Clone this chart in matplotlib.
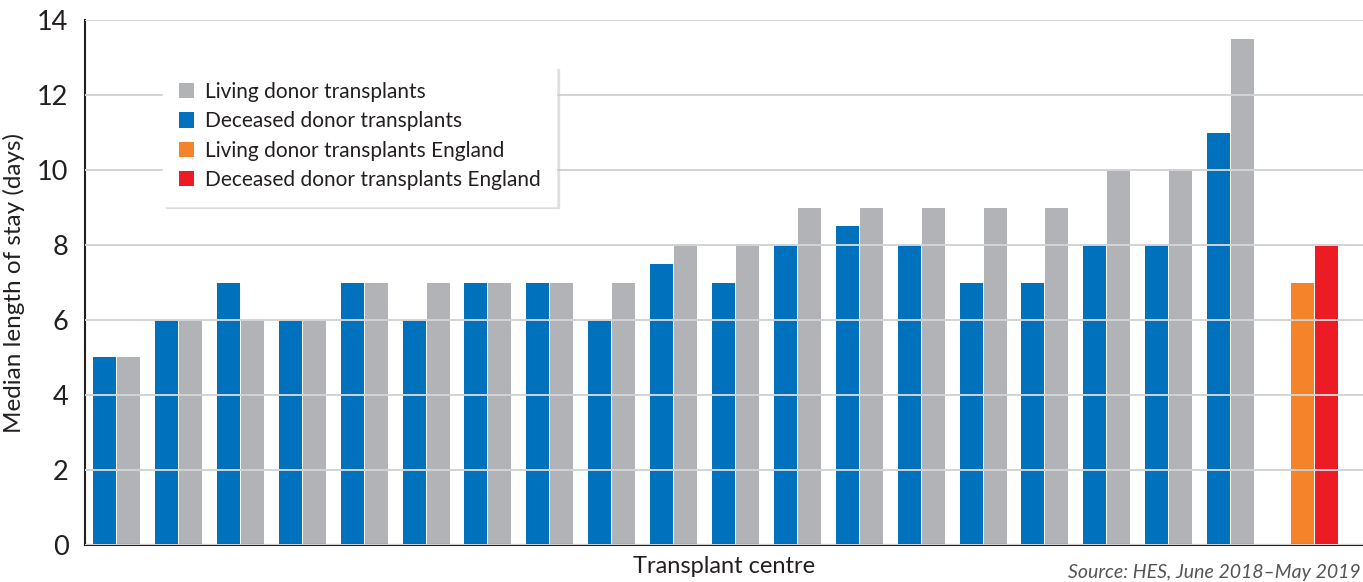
import matplotlib.pyplot as plt
import numpy as np

plt.rcParams['font.family'] = ['Lato', 'DejaVu Sans']

# median length of stay per transplant centre (days)
deceased = [5, 6, 7, 6, 7, 6, 7, 7, 6, 7.5, 7, 8, 8.5, 8, 7, 7, 8, 8, 11]
living = [5, 6, 6, 6, 7, 7, 7, 7, 7, 8, 8, 9, 9, 9, 9, 9, 10, 10, 13.5]
england_living = 7
england_deceased = 8

c_blue = '#0071bc'
c_grey = '#b1b3b6'
c_orange = '#f4832a'
c_red = '#ed1c24'
txt = '#231f20'

fig = plt.figure(figsize=(13.63, 5.82), dpi=100)
ax = fig.add_axes([0.0624, 0.0636, 0.9376, 0.902])

x = np.arange(len(deceased))
w = 0.372
gap = 0.008
ax.bar(x - w/2 - gap, deceased, w, color=c_blue, zorder=1, label='Deceased donor transplants')
ax.bar(x + w/2 + gap, living, w, color=c_grey, zorder=1, label='Living donor transplants')
xe = len(deceased) + 0.36
ax.bar(xe - w/2 - gap, england_living, w, color=c_orange, zorder=1, label='Living donor transplants England')
ax.bar(xe + w/2 + gap, england_deceased, w, color=c_red, zorder=1, label='Deceased donor transplants England')

ax.set_xlim(-0.51, 20.14)
ax.set_ylim(0, 14)
ax.set_yticks(range(0, 15, 2))
ax.set_xticks([])
ax.yaxis.grid(True, color='#d2d3d5', lw=1.4, zorder=2)
ax.set_axisbelow(False)
for s in ['top', 'right']:
    ax.spines[s].set_visible(False)
for s in ['left', 'bottom']:
    ax.spines[s].set_color(txt)
    ax.spines[s].set_linewidth(1.5)
ax.tick_params(axis='y', length=0, labelsize=19.5, labelcolor=txt, pad=12)

ax.set_ylabel('Median length of stay (days)', fontsize=17.5, color=txt, labelpad=9)
ax.set_xlabel('Transplant centre', fontsize=17, color=txt, labelpad=8)
fig.text(0.9985, 0.002, 'Source: HES, June 2018\u2013May 2019', fontsize=14, style='italic',
         color='#555555', ha='right', va='bottom')

h, l = ax.get_legend_handles_labels()
order = [1, 0, 2, 3]
leg = ax.legend([h[i] for i in order], [l[i] for i in order], loc='upper left',
                bbox_to_anchor=(0.061, 0.912), borderaxespad=0, fontsize=15,
                frameon=True, fancybox=False, edgecolor='white', framealpha=1,
                shadow={'color': '0.8', 'alpha': 0.5},
                handlelength=0.75, handleheight=0.75, handletextpad=0.5,
                labelspacing=0.45, borderpad=0.75, labelcolor=txt)
leg.set_zorder(5)

fig.savefig('out.png', dpi=100)
